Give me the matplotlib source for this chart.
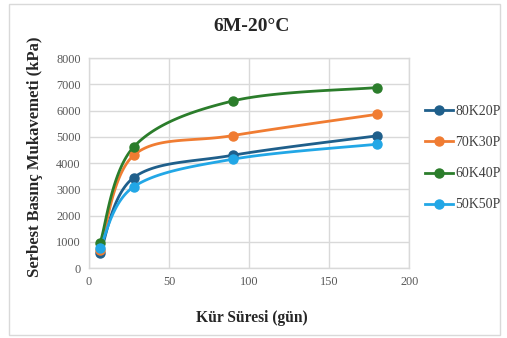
import numpy as np
import matplotlib
matplotlib.use("Agg")
import matplotlib.pyplot as plt
from matplotlib.patches import Rectangle

# Curing time (days) and unconfined compressive strength (kPa)
days = [7, 28, 90, 180]
s_80K20P = [580, 3450, 4300, 5040]
s_70K30P = [680, 4300, 5050, 5860]
s_60K40P = [970, 4620, 6370, 6880]
s_50K50P = [780, 3100, 4150, 4720]
series_names = ["80K20P", "70K30P", "60K40P", "50K50P"]
x_ticks = [0, 50, 100, 150, 200]
y_ticks = [0, 1000, 2000, 3000, 4000, 5000, 6000, 7000, 8000]

colors = ["#1f5f8b", "#f07c32", "#2b7d2b", "#22a7e6"]
serif = ["Liberation Serif", "DejaVu Serif"]


def smooth(x, y, n=40):
    """Catmull-Rom style cubic Bezier through the points (spreadsheet smoothed line)."""
    P = np.column_stack([x, y]).astype(float)
    pts = []
    for i in range(len(P) - 1):
        p0 = P[i - 1] if i > 0 else P[i]
        p1, p2 = P[i], P[i + 1]
        p3 = P[i + 2] if i + 2 < len(P) else P[i + 1]
        c1 = p1 + (p2 - p0) / 6.0
        c2 = p2 - (p3 - p1) / 6.0
        t = np.linspace(0, 1, n)[:, None]
        seg = ((1 - t) ** 3) * p1 + 3 * ((1 - t) ** 2) * t * c1 + 3 * (1 - t) * t ** 2 * c2 + t ** 3 * p2
        pts.append(seg if i == 0 else seg[1:])
    pts = np.vstack(pts)
    return pts[:, 0], pts[:, 1]


fig = plt.figure(figsize=(5.07, 3.38), dpi=100)
fig.patches.append(Rectangle((0.018, 0.008), 0.968, 0.98, transform=fig.transFigure,
                             fill=False, edgecolor="#d9d9d9", linewidth=1.0))
ax = fig.add_axes([0.1755, 0.207, 0.6315, 0.621])

all_series = [s_80K20P, s_70K30P, s_60K40P, s_50K50P]
for name, vals, c in zip(series_names, all_series, colors):
    sx, sy = smooth(days, vals)
    ax.plot(sx, sy, color=c, linewidth=2.0, zorder=3)
    ax.plot(days, vals, linestyle="none", marker="o", markersize=6.5, color=c, zorder=4)
    ax.plot([], [], color=c, linewidth=2.0, marker="o", markersize=6.5, label=name)

ax.set_xlim(0, 200)
ax.set_ylim(0, 8000)
ax.set_xticks(x_ticks)
ax.set_yticks(y_ticks)
ax.grid(True, color="#d9d9d9", linewidth=1.0)
ax.set_axisbelow(True)
for sp in ax.spines.values():
    sp.set_color("#d9d9d9")
    sp.set_linewidth(1.0)
ax.tick_params(length=0, pad=6, labelsize=8.8, labelcolor="#595959")
for lab in ax.get_xticklabels() + ax.get_yticklabels():
    lab.set_family(serif)

fig.text(0.497, 0.922, "6M-20°C", ha="center", va="center", family=serif,
         fontsize=14, fontweight="bold", color="#262626")
fig.text(0.497, 0.06, "Kür Süresi (gün)", ha="center", va="center", family=serif,
         fontsize=11.2, fontweight="bold", color="#262626")
fig.text(0.069, 0.535, "Serbest Basınç Mukavemeti (kPa)", ha="center", va="center",
         rotation=90, family=serif, fontsize=12, fontweight="bold", color="#262626")

leg = fig.legend(loc="upper left", bbox_to_anchor=(0.828, 0.705), frameon=False,
                 prop={"family": serif, "size": 10}, handlelength=2.0,
                 labelspacing=1.3, handletextpad=0.15, borderaxespad=0)
for t in leg.get_texts():
    t.set_color("#404040")

fig.savefig("out.png", dpi=100)
